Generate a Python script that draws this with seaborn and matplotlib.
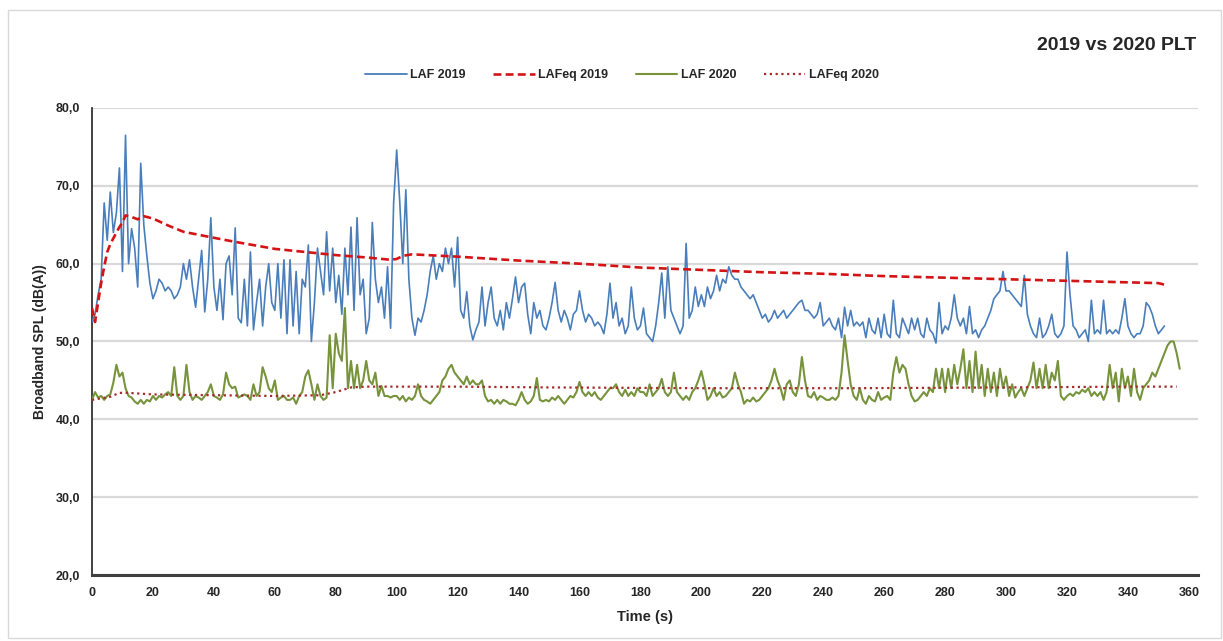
import numpy as np
import pandas as pd
import matplotlib
matplotlib.use("Agg")
import matplotlib.pyplot as plt
import seaborn as sns
from matplotlib.ticker import MultipleLocator, FuncFormatter
from matplotlib.patches import Rectangle
from matplotlib.lines import Line2D

# ---------------- data ----------------
SAMPLE_STEP_S = 1.0

laf_2019 = [
    52.5, 53.5, 56, 58, 67.8, 63, 69.2, 64, 66.5, 72.3,
    59, 76.5, 60, 64.5, 62, 57, 72.9, 65, 61, 57.5,
    55.5, 56.5, 58, 57.5, 56.5, 57, 56.5, 55.5, 56, 57,
    60, 58, 60.5, 57, 54.4, 58, 61.7, 53.8, 58, 65.9,
    57, 54, 58, 52.8, 60, 61, 56, 64.6, 53, 52.4,
    58, 52, 61.5, 51.5, 55, 58, 52, 57, 60, 55,
    54, 60, 53, 60.5, 51, 60.5, 52, 59, 51, 58,
    57, 62.4, 50, 55, 62, 59, 56, 64.1, 56.5, 62,
    55, 58.5, 53.5, 62, 56, 64.7, 54, 65.9, 56, 58,
    51, 53, 65.3, 58, 55, 57, 53, 59.6, 51.7, 67.8,
    74.6, 68, 60, 69.5, 58, 53, 50.8, 53, 52.5, 54,
    56, 59, 61, 58, 60, 59, 62, 60, 62, 57,
    63.4, 54, 53, 56.4, 52, 50.2, 51.5, 52.5, 57, 52,
    55, 57, 53, 52, 54, 51.5, 55, 53, 55.5, 58.3,
    55, 57, 57.5, 53.5, 51, 55, 53, 54, 52, 51.5,
    53, 55, 57.6, 54, 52.5, 54, 53, 51.5, 53.5, 54,
    56.5, 54, 52.5, 53.5, 53, 52, 52.5, 52, 51, 53.5,
    57.5, 53, 55, 52, 53, 51, 52, 57, 53, 51.5,
    52, 54.3, 51, 50.5, 50, 52, 55, 58.8, 53, 59.6,
    54, 53, 52, 51, 52, 62.6, 53, 54, 57, 54.5,
    56, 54.5, 57, 55.5, 56.5, 58.5, 56.5, 58, 57.5, 59.6,
    58.5, 58, 58, 57, 56.5, 56, 55.5, 56, 55, 54,
    53, 53.5, 52.5, 53, 54, 53, 53.5, 54, 53, 53.5,
    54, 54.5, 55, 55.3, 54, 54, 53.5, 53, 53.5, 55,
    52, 52.5, 53, 52, 51.5, 53, 50.5, 54.4, 52, 54,
    52, 52.5, 52, 52.5, 50.5, 53, 51.5, 51, 53, 50.5,
    53.5, 51, 50.5, 55.3, 51, 50.5, 53, 52, 51, 53,
    51.5, 53, 51, 50.5, 53, 51.5, 51, 49.8, 55, 51,
    52, 51.5, 53, 56, 53, 52, 53, 51, 54.5, 51,
    51.5, 50.5, 51.5, 52, 53, 54, 55.5, 56, 56.5, 59,
    56.5, 56.5, 56, 55.5, 55, 54.5, 58.5, 53.5, 52, 51,
    50.5, 53, 50.5, 51, 52, 53.5, 51, 50.5, 51, 52,
    61.5, 56, 52, 51.5, 50.5, 51, 51.5, 50, 55.3, 51,
    51.5, 51, 55.3, 51, 51.5, 51, 51.5, 51, 53, 55.5,
    52, 51, 50.5, 51, 51, 52, 55, 54.5, 53.5, 52,
    51, 51.5, 52,
]

laf_2020 = [
    42.5, 43.5, 42.8, 43, 42.5, 43, 43.2, 44.7, 47, 45.5,
    46, 44, 43, 42.8, 42.3, 42, 42.5, 42, 42.5, 42.3,
    43, 42.5, 43, 42.8, 43.2, 43.5, 43, 46.7, 43, 42.5,
    43, 47, 43.5, 42.5, 43, 42.8, 42.5, 43, 43.5, 44.5,
    43, 42.8, 42.5, 43.2, 46, 44.5, 44, 44.2, 42.8, 43,
    43.2, 43, 42.5, 44.5, 43, 43.5, 46.7, 45.5, 44, 43.5,
    45, 42.5, 42.8, 43, 42.5, 42.5, 42.8, 42, 43, 43.5,
    45.5, 46.3, 44.5, 42.5, 44.5, 43, 42.5, 42.8, 50.8, 44,
    51, 48.5, 47.5, 54.3, 44, 47.5, 44, 47, 44, 45,
    47.5, 45, 44.5, 46, 43, 44.3, 43, 43, 42.8, 43,
    43, 42.5, 43, 42.3, 42.8, 42.5, 43, 44.5, 43, 42.5,
    42.3, 42, 42.5, 43, 43.5, 45, 45.5, 46.5, 47, 46,
    45.5, 45, 44.5, 45.5, 44.5, 45, 44.5, 44.5, 45, 43,
    42.3, 42.5, 42, 42.5, 42, 42.5, 42.3, 42, 42, 41.8,
    42.5, 43.5, 42.5, 42, 42.3, 43, 45.3, 42.5, 42.3, 42.5,
    42.3, 42.8, 42.5, 43, 42.5, 42, 42.5, 43, 42.8, 43.5,
    44.8, 43.5, 43, 43.5, 43, 43.5, 42.8, 42.5, 43, 43.5,
    44, 44, 44.5, 43.5, 43, 43.8, 43, 43.5, 43, 44,
    43.5, 43.5, 43, 44.5, 43, 43.5, 44, 45.2, 43.5, 43,
    43.5, 46, 43.5, 43, 42.5, 43, 42.5, 43.5, 44, 45,
    46.2, 44.5, 42.5, 43, 44, 43, 43.5, 42.8, 43, 43.5,
    44, 46, 44.5, 43.5, 42, 42.5, 42.3, 42.8, 42.3, 42.5,
    43, 43.5, 44, 45, 46.5, 45, 44, 42.5, 44.5, 45,
    43.5, 43, 44.5, 48, 45, 43, 42.8, 43.5, 42.5, 43,
    42.8, 42.5, 42.5, 42.8, 42.5, 43, 46, 50.8, 47.5, 44.5,
    43, 42.5, 44, 42.5, 42, 43, 42.5, 42.3, 43.5, 42.5,
    42.8, 43, 42.5, 46, 48, 46, 47, 46.5, 44.5, 43,
    42.3, 42.5, 43, 43.5, 43, 44, 43.5, 46.5, 44, 46.5,
    43.5, 46.5, 44, 47, 44.5, 46.5, 49, 44, 47.5, 43.5,
    48.7, 44, 47, 43, 46.5, 43.5, 46, 43, 46.5, 44,
    45.5, 43, 44.5, 42.8, 43.5, 44, 43, 44, 45, 47.3,
    44, 46.5, 44, 47, 44, 46, 45, 47.5, 43, 42.5,
    43, 43.3, 43, 43.5, 43.3, 43.8, 43.5, 44, 43, 43.5,
    43, 43.5, 42.5, 43.5, 47, 44, 46, 42.3, 46.5, 44,
    45.5, 43, 46.5, 43.5, 42.5, 44, 44.5, 45, 46, 45.5,
    46.5, 47.5, 48.5, 49.5, 50, 50, 48.5, 46.5,
]

lafeq_2019_t = [0, 1, 2, 3, 4, 5, 6, 8, 9, 10,
                11, 13, 15, 17, 20, 25, 30, 39, 47, 60,
                70, 80, 90, 98, 100, 102, 105, 110, 120, 140,
                160, 180, 200, 220, 240, 260, 280, 300, 320, 340,
                350, 352]
lafeq_2019 = [54.3, 52.5, 55, 57.5, 59.6, 61.5, 62.5, 64, 64.7, 65.3,
              66.2, 66, 65.7, 66.1, 65.8, 64.9, 64.1, 63.4, 62.8, 61.9,
              61.5, 61.1, 60.8, 60.5, 60.6, 61.0, 61.2, 61.1, 60.9, 60.4,
              60.0, 59.5, 59.2, 58.9, 58.7, 58.4, 58.2, 58.0, 57.8, 57.6,
              57.5, 57.3]

lafeq_2020_t = [0, 3, 6, 9, 12, 20, 40, 60, 75, 80, 85, 90, 120, 150, 200,
                250, 300, 340, 356]
lafeq_2020 = [42.5, 42.7, 42.9, 43.4, 43.4, 43.2, 43.1, 43.0, 43.1, 43.5,
              44.1, 44.2, 44.2, 44.1, 44.0, 44.0, 44.1, 44.2, 44.2]

series_labels = ["LAF 2019", "LAFeq 2019", "LAF 2020", "LAFeq 2020"]
x_ticks = list(range(0, 361, 20))
y_ticks = [20, 30, 40, 50, 60, 70, 80]

# ---------------- styling ----------------
sns.set_style("white")
plt.rcParams['font.family'] = ['Liberation Sans', 'DejaVu Sans']

C_BLUE = "#4a7ebb"
C_RED = "#d41414"
C_GREEN = "#77933c"
C_DOT = "#a52a2a"

W, H = 1223, 641
fig = plt.figure(figsize=(W / 100, H / 100), dpi=100)
fig.patch.set_facecolor("white")
ax = fig.add_axes([92 / W, 1 - 575 / H, (1198 - 92) / W, (575 - 108) / H])

df19 = pd.DataFrame({"t": np.arange(len(laf_2019)) * SAMPLE_STEP_S, "v": laf_2019})
df20 = pd.DataFrame({"t": np.arange(len(laf_2020)) * SAMPLE_STEP_S, "v": laf_2020})
dq19 = pd.DataFrame({"t": lafeq_2019_t, "v": lafeq_2019})
dq20 = pd.DataFrame({"t": lafeq_2020_t, "v": lafeq_2020})

sns.lineplot(data=df19, x="t", y="v", ax=ax, color=C_BLUE, lw=1.2, zorder=3)
sns.lineplot(data=dq19, x="t", y="v", ax=ax, color=C_RED, lw=1.9,
             linestyle=(0, (3, 1.6)), zorder=4)
sns.lineplot(data=df20, x="t", y="v", ax=ax, color=C_GREEN, lw=1.5, zorder=3)
sns.lineplot(data=dq20, x="t", y="v", ax=ax, color=C_DOT, lw=1.6,
             linestyle=(0, (1, 1.6)), zorder=4)

ax.set_xlim(0, 363)
ax.set_ylim(20, 80)
ax.set_xticks(x_ticks)
ax.xaxis.set_minor_locator(MultipleLocator(10))
ax.set_yticks(y_ticks)
ax.yaxis.set_major_formatter(FuncFormatter(lambda v, p: f"{v:.1f}".replace(".", ",")))
ax.yaxis.grid(True, color="#d9d9d9", lw=1.6)
ax.xaxis.grid(False)
ax.set_axisbelow(True)

for s in ["top", "right"]:
    ax.spines[s].set_visible(False)
ax.spines["left"].set_color("#222222")
ax.spines["left"].set_linewidth(1.2)
ax.spines["bottom"].set_color("#404040")
ax.spines["bottom"].set_linewidth(2.2)

ax.tick_params(axis="both", which="both", direction="out", length=5, width=1,
               color="#222222", labelsize=9)
for lab in ax.get_xticklabels() + ax.get_yticklabels():
    lab.set_fontweight("bold")

ax.set_xlabel("Time (s)", fontsize=10.5, fontweight="bold", labelpad=8)
ax.set_ylabel("Broadband SPL (dB(A))", fontsize=10, fontweight="bold", labelpad=6)

fig.text(1196 / W, 1 - 45 / H, "2019 vs 2020 PLT", ha="right", va="center",
         fontsize=14, fontweight="bold")

handles = [
    Line2D([], [], color=C_BLUE, lw=1.3),
    Line2D([], [], color=C_RED, lw=1.9, linestyle=(0, (3, 1.6))),
    Line2D([], [], color=C_GREEN, lw=1.5),
    Line2D([], [], color=C_DOT, lw=1.6, linestyle=(0, (1, 1.6))),
]
fig.legend(handles, series_labels, loc="center", bbox_to_anchor=(622 / W, 1 - 75 / H),
           ncol=4, frameon=False, handlelength=3.3, columnspacing=2.2,
           handletextpad=0.3, prop={"weight": "bold", "size": 9})

fig.patches.append(Rectangle((8 / W, 1 - 638 / H), (1221 - 8) / W, (638 - 10) / H,
                             transform=fig.transFigure, fill=False,
                             edgecolor="#d9d9d9", lw=1.0))

fig.savefig("out.png", dpi=100)
